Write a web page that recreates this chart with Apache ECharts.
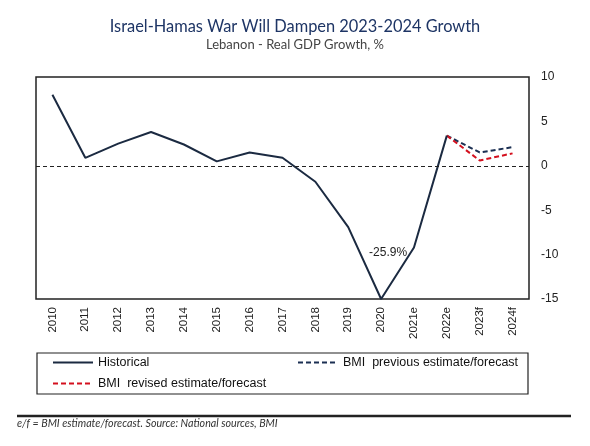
<!DOCTYPE html>
<html>
<head>
<meta charset="utf-8">
<script src="https://cdn.jsdelivr.net/npm/echarts@6/dist/echarts.min.js"></script>
<style>
  html, body { margin: 0; padding: 0; background: #fff; }
  #chart { width: 590px; height: 446px; }
</style>
</head>
<body>
<div id="chart"></div>
<script>
// years, e = estimate, f = forecast
var categories = ['2010', '2011', '2012', '2013', '2014', '2015', '2016', '2017',
                  '2018', '2019', '2020', '2021e', '2022e', '2023f', '2024f'];
// real GDP growth, %
var historical = [8.0, 0.9, 2.5, 3.8, 2.4, 0.5, 1.5, 0.9, -1.8, -6.9, -25.9, -9.2, 3.4, null, null];
var previousForecast = [null, null, null, null, null, null, null, null, null, null, null, null, 3.4, 1.5, 2.1];
var revisedForecast = [null, null, null, null, null, null, null, null, null, null, null, null, 3.4, 0.6, 1.4];
var yTicks = { min: -15, max: 10, interval: 5 };

var chartFont = '"Liberation Sans", Arial, sans-serif';

// values below the axis floor sit on the floor, their real value goes in a label
var historicalPlot = historical.map(function (v) {
    return v === null ? null : Math.max(v, yTicks.min);
});
var clippedMarks = [];
historical.forEach(function (v, i) {
    if (v !== null && v < yTicks.min) {
        clippedMarks.push({ coord: [categories[i], yTicks.min], value: v.toFixed(1) + '%' });
    }
});

var legendText = { fontFamily: chartFont, fontSize: 12.5, color: '#111' };

var myChart = echarts.init(document.getElementById('chart'));

var option = {
    backgroundColor: '#fff',
    animation: false,
    title: {
        text: 'Israel-Hamas War Will Dampen 2023-2024 Growth',
        subtext: 'Lebanon - Real GDP Growth, %',
        left: 'center',
        top: 14,
        itemGap: 3,
        textStyle: { fontFamily: 'Lato', fontWeight: 'normal', fontSize: 16.4, color: '#1e3565' },
        subtextStyle: { fontFamily: 'Lato', fontSize: 13, color: '#444' }
    },
    grid: {
        left: 36,
        right: 61,
        top: 77,
        bottom: 147,
        show: true,
        borderColor: '#222',
        borderWidth: 1.5
    },
    legend: [
        {
            data: ['Historical'],
            left: 47, top: 351,
            itemWidth: 40, itemHeight: 14,
            itemStyle: { opacity: 0 },
            textStyle: legendText
        },
        {
            data: ['BMI  revised estimate/forecast'],
            left: 47, top: 372,
            itemWidth: 40, itemHeight: 14,
            itemStyle: { opacity: 0 },
            textStyle: legendText
        },
        {
            data: ['BMI  previous estimate/forecast'],
            left: 292, top: 351,
            itemWidth: 40, itemHeight: 14,
            itemStyle: { opacity: 0 },
            textStyle: legendText
        }
    ],
    xAxis: {
        type: 'category',
        data: categories,
        boundaryGap: true,
        axisLine: { show: false },
        axisTick: { show: false },
        axisLabel: {
            rotate: 90,
            margin: 8,
            fontFamily: chartFont,
            fontSize: 11.5,
            color: '#222'
        }
    },
    yAxis: {
        type: 'value',
        position: 'right',
        min: yTicks.min,
        max: yTicks.max,
        interval: yTicks.interval,
        axisLine: { show: false },
        axisTick: { show: false },
        splitLine: { show: false },
        axisLabel: {
            margin: 12,
            fontFamily: chartFont,
            fontSize: 12,
            color: '#222'
        }
    },
    graphic: [
        {
            type: 'rect',
            shape: { x: 37, y: 353, width: 491, height: 41 },
            style: { fill: 'none', stroke: '#222', lineWidth: 1.2 },
            z: 0
        },
        {
            type: 'line',
            shape: { x1: 17, y1: 416, x2: 571, y2: 416 },
            style: { stroke: '#222', lineWidth: 2.5 }
        },
        {
            type: 'text',
            left: 17,
            top: 418,
            style: {
                text: 'e/f = BMI estimate/forecast. Source: National sources, BMI',
                font: 'italic 10.7px Lato',
                fill: '#333'
            }
        }
    ],
    series: [
        {
            name: 'BMI  previous estimate/forecast',
            type: 'line',
            data: previousForecast,
            symbol: 'none',
            color: '#1b2f52',
            lineStyle: { color: '#1b2f52', width: 2, type: [5, 3] }
        },
        {
            name: 'BMI  revised estimate/forecast',
            type: 'line',
            data: revisedForecast,
            symbol: 'none',
            color: '#d4101e',
            lineStyle: { color: '#d4101e', width: 2, type: [5, 3] }
        },
        {
            name: 'Historical',
            type: 'line',
            data: historicalPlot,
            symbol: 'none',
            color: '#1b2a41',
            lineStyle: { color: '#1b2a41', width: 2 },
            markLine: {
                silent: true,
                symbol: 'none',
                label: { show: false },
                lineStyle: { color: '#222', width: 1, type: [4, 3] },
                data: [{ yAxis: 0 }]
            },
            markPoint: {
                silent: true,
                symbol: 'rect',
                symbolSize: 1,
                itemStyle: { color: 'rgba(0,0,0,0)' },
                label: {
                    show: true,
                    position: 'top',
                    distance: 40,
                    offset: [7, 0],
                    formatter: '{c}',
                    fontFamily: chartFont,
                    fontSize: 12,
                    color: '#222'
                },
                data: clippedMarks
            }
        }
    ]
};

myChart.setOption(option);
</script>
</body>
</html>
